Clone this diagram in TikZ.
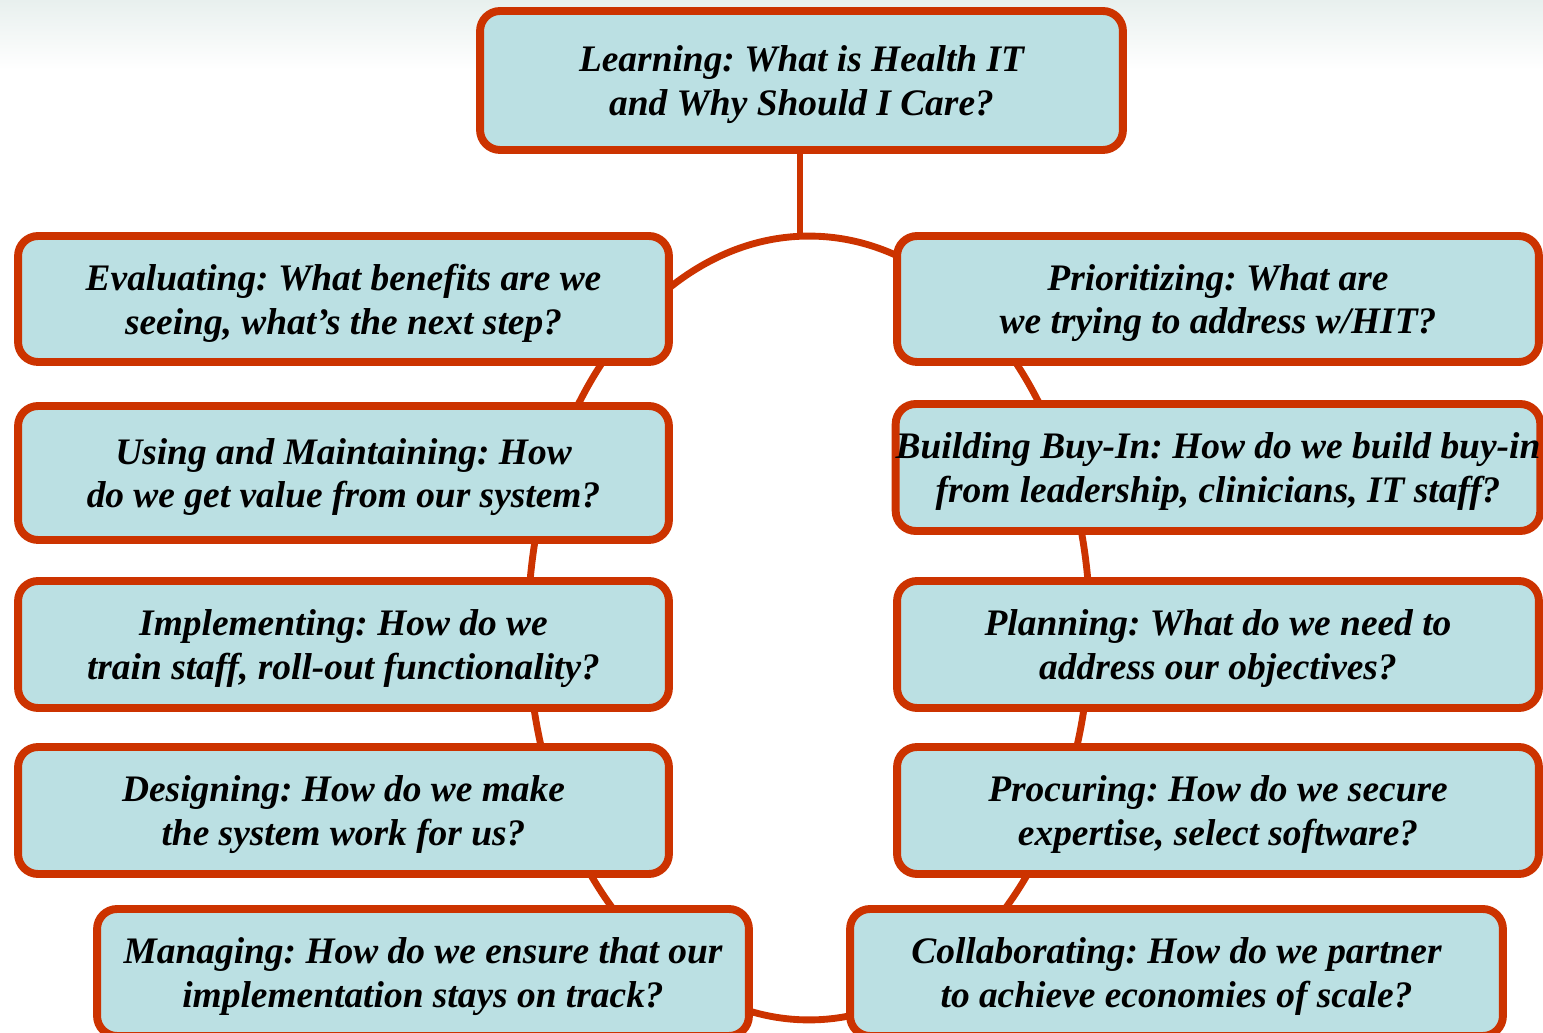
\documentclass[tikz,border=0pt]{standalone}
\usepackage{fontspec}
\setmainfont{Liberation Serif}
\usepackage{xcolor}
\usetikzlibrary{shapes.geometric}
\definecolor{boxfill}{RGB}{187,224,227}
\definecolor{rust}{RGB}{204,51,0}
\definecolor{haze}{RGB}{232,240,238}
\frenchspacing

\begin{document}
\begin{tikzpicture}[
      x=0.02cm, y=-0.02cm,
      stage/.style={rectangle, draw=rust, fill=boxfill, line width=4.5pt, rounded corners=0.4cm, align=center,
        font=\fontsize{21.3}{25}\selectfont\bfseries\itshape, text depth=0pt,
        minimum width=13.02cm, minimum height=2.54cm, inner sep=0pt},
      ring/.style={ellipse, draw=rust, line width=3.9pt, minimum width=11.24cm, minimum height=15.68cm, inner sep=0pt},
      link/.style={draw=rust, line width=3.9pt}
    ]
      \useasboundingbox (0,0) rectangle (1543,1033);
      \shade[top color=haze, bottom color=white] (0,0) rectangle (1543,70);

      % cycle ring and stem
      \node [ring] (cycle) at (809,628) {};

      \node [stage, minimum width=12.86cm, minimum height=2.78cm] (learning) at (801.5,80.5) {Learning: What is Health IT\\and Why Should I Care?};
      \draw [link] ([xshift=-0.03cm]learning.south) -- ([xshift=-0.03cm]learning.south |- cycle.north);

      % left column
      \node [stage, minimum height=2.52cm] (evaluating) at (343.5,299) {Evaluating: What benefits are we\\seeing, what’s the next step?};
      \node [stage, minimum height=2.68cm] (using) at (343.5,473) {Using and Maintaining: How\\do we get value from our system?};
      \node [stage] (implementing) at (343.5,644.5) {Implementing: How do we\\train staff, roll-out functionality?};
      \node [stage] (designing) at (343.5,810.5) {Designing: How do we make\\the system work for us?};
      \node [stage, minimum width=13.04cm] (managing) at (423,972.5) {Managing: How do we ensure that our\\implementation stays on track?};

      % right column
      \node [stage, minimum width=12.84cm, minimum height=2.52cm] (prioritizing) at (1218,299) {Prioritizing: What are\\we trying to address w/HIT?};
      \node [stage, minimum width=12.84cm] (buyin) at (1218,467.5) {Building Buy-In: How do we build buy-in\\from leadership, clinicians, IT staff?};
      \node [stage, minimum width=12.84cm] (planning) at (1218,644.5) {Planning: What do we need to\\address our objectives?};
      \node [stage, minimum width=12.84cm] (procuring) at (1218,810.5) {Procuring: How do we secure\\expertise, select software?};
      \node [stage, minimum width=13.06cm] (collaborating) at (1176.5,972.5) {Collaborating: How do we partner\\to achieve economies of scale?};
    \end{tikzpicture}
\end{document}
